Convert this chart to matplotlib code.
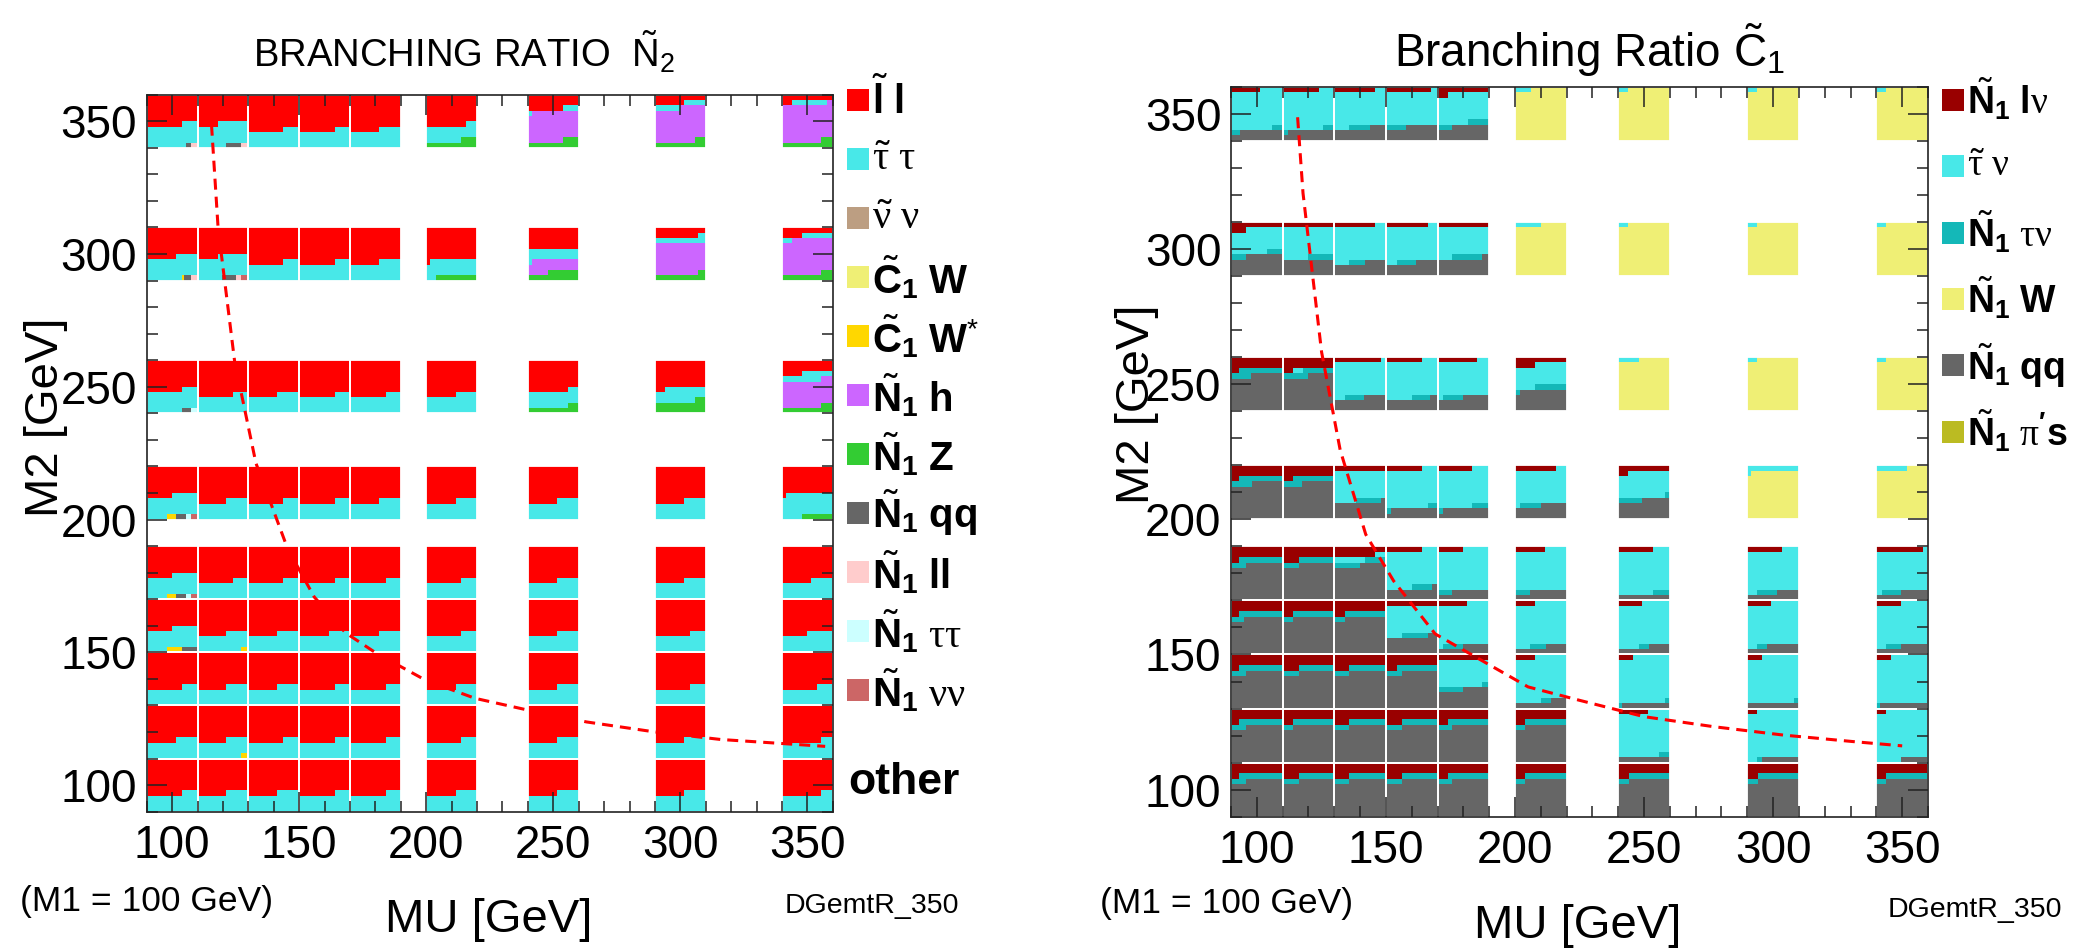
import matplotlib
matplotlib.use('Agg')
import matplotlib.pyplot as plt
from matplotlib.patches import Rectangle
import numpy as np

plt.rcParams['font.family'] = ['Liberation Sans', 'DejaVu Sans']
plt.rcParams['mathtext.fontset'] = 'custom'
plt.rcParams['mathtext.rm'] = 'Liberation Sans'
plt.rcParams['mathtext.bf'] = 'Liberation Sans:bold'
plt.rcParams['mathtext.it'] = 'Liberation Serif'
plt.rcParams['mathtext.sf'] = 'Liberation Sans'

# scan grid (GeV); rows of every table run from M2 = 350 down to M2 = 100
MU_POINTS = [100, 120, 140, 160, 180, 210, 250, 300, 350]
M2_POINTS = [350, 300, 250, 210, 180, 160, 140, 120, 100]

# ---- neutralino-2 decays ----
N2_SLEP_L = [
    [0.569, 0.540, 0.668, 0.670, 0.657, 0.578, 0.269, 0.158, 0.120],
    [0.558, 0.541, 0.668, 0.670, 0.657, 0.608, 0.400, 0.185, 0.140],
    [0.569, 0.669, 0.657, 0.670, 0.670, 0.658, 0.578, 0.520, 0.240],
    [0.549, 0.657, 0.668, 0.670, 0.657, 0.658, 0.658, 0.658, 0.508],
    [0.549, 0.669, 0.668, 0.670, 0.670, 0.669, 0.658, 0.658, 0.658],
    [0.549, 0.657, 0.657, 0.658, 0.657, 0.669, 0.658, 0.669, 0.650],
    [0.669, 0.657, 0.657, 0.670, 0.670, 0.658, 0.658, 0.669, 0.669],
    [0.658, 0.657, 0.668, 0.670, 0.670, 0.669, 0.658, 0.658, 0.677],
    [0.669, 0.657, 0.657, 0.670, 0.670, 0.658, 0.658, 0.658, 0.677],
]
N2_STAU_TAU = [
    [0.409, 0.417, 0.332, 0.330, 0.343, 0.291, 0.039, 0.091, 0.069],
    [0.411, 0.408, 0.332, 0.330, 0.343, 0.312, 0.208, 0.115, 0.080],
    [0.400, 0.331, 0.343, 0.330, 0.330, 0.342, 0.300, 0.258, 0.137],
    [0.390, 0.343, 0.332, 0.330, 0.343, 0.342, 0.342, 0.342, 0.432],
    [0.390, 0.331, 0.332, 0.330, 0.330, 0.331, 0.342, 0.342, 0.342],
    [0.391, 0.329, 0.343, 0.342, 0.343, 0.331, 0.342, 0.331, 0.350],
    [0.331, 0.343, 0.343, 0.330, 0.330, 0.342, 0.342, 0.331, 0.331],
    [0.342, 0.329, 0.332, 0.330, 0.330, 0.331, 0.342, 0.342, 0.323],
    [0.331, 0.343, 0.343, 0.330, 0.330, 0.342, 0.342, 0.342, 0.323],
]
N2_C1_WSTAR = [
    [0, 0, 0, 0, 0, 0, 0, 0, 0],
    [0.005, 0, 0, 0, 0, 0, 0, 0, 0],
    [0, 0, 0, 0, 0, 0, 0, 0, 0],
    [0.019, 0, 0, 0, 0, 0, 0, 0, 0],
    [0.019, 0, 0, 0, 0, 0, 0, 0, 0],
    [0.029, 0.014, 0, 0, 0, 0, 0, 0, 0],
    [0, 0, 0, 0, 0, 0, 0, 0, 0],
    [0, 0.014, 0, 0, 0, 0, 0, 0, 0],
    [0, 0, 0, 0, 0, 0, 0, 0, 0],
]
N2_N1_H = [
    [0, 0, 0, 0, 0, 0, 0.561, 0.629, 0.688],
    [0, 0, 0, 0, 0, 0, 0.232, 0.585, 0.657],
    [0, 0, 0, 0, 0, 0, 0, 0, 0.500],
    [0, 0, 0, 0, 0, 0, 0, 0, 0],
    [0, 0, 0, 0, 0, 0, 0, 0, 0],
    [0, 0, 0, 0, 0, 0, 0, 0, 0],
    [0, 0, 0, 0, 0, 0, 0, 0, 0],
    [0, 0, 0, 0, 0, 0, 0, 0, 0],
    [0, 0, 0, 0, 0, 0, 0, 0, 0],
]
N2_N1_Z = [
    [0, 0, 0, 0, 0, 0.131, 0.131, 0.122, 0.123],
    [0, 0, 0, 0, 0, 0.080, 0.160, 0.115, 0.123],
    [0, 0, 0, 0, 0, 0, 0.122, 0.222, 0.123],
    [0, 0, 0, 0, 0, 0, 0, 0, 0.060],
    [0, 0, 0, 0, 0, 0, 0, 0, 0],
    [0, 0, 0, 0, 0, 0, 0, 0, 0],
    [0, 0, 0, 0, 0, 0, 0, 0, 0],
    [0, 0, 0, 0, 0, 0, 0, 0, 0],
    [0, 0, 0, 0, 0, 0, 0, 0, 0],
]
N2_N1_QQ = [
    [0.009, 0.029, 0, 0, 0, 0, 0, 0, 0],
    [0.013, 0.027, 0, 0, 0, 0, 0, 0, 0],
    [0.018, 0, 0, 0, 0, 0, 0, 0, 0],
    [0.019, 0, 0, 0, 0, 0, 0, 0, 0],
    [0.019, 0, 0, 0, 0, 0, 0, 0, 0],
    [0.031, 0, 0, 0, 0, 0, 0, 0, 0],
    [0, 0, 0, 0, 0, 0, 0, 0, 0],
    [0, 0, 0, 0, 0, 0, 0, 0, 0],
    [0, 0, 0, 0, 0, 0, 0, 0, 0],
]
N2_N1_LL = [
    [0.013, 0.014, 0, 0, 0, 0, 0, 0, 0],
    [0.013, 0.010, 0, 0, 0, 0, 0, 0, 0],
    [0, 0, 0, 0, 0, 0, 0, 0, 0],
    [0, 0, 0, 0, 0, 0, 0, 0, 0],
    [0, 0, 0, 0, 0, 0, 0, 0, 0],
    [0, 0, 0, 0, 0, 0, 0, 0, 0],
    [0, 0, 0, 0, 0, 0, 0, 0, 0],
    [0, 0, 0, 0, 0, 0, 0, 0, 0],
    [0, 0, 0, 0, 0, 0, 0, 0, 0],
]
N2_N1_TAUTAU = [
    [0, 0, 0, 0, 0, 0, 0, 0, 0],
    [0, 0, 0, 0, 0, 0, 0, 0, 0],
    [0.013, 0, 0, 0, 0, 0, 0, 0, 0],
    [0.010, 0, 0, 0, 0, 0, 0, 0, 0],
    [0.010, 0, 0, 0, 0, 0, 0, 0, 0],
    [0, 0, 0, 0, 0, 0, 0, 0, 0],
    [0, 0, 0, 0, 0, 0, 0, 0, 0],
    [0, 0, 0, 0, 0, 0, 0, 0, 0],
    [0, 0, 0, 0, 0, 0, 0, 0, 0],
]
N2_N1_NUNU = [
    [0, 0, 0, 0, 0, 0, 0, 0, 0],
    [0, 0.014, 0, 0, 0, 0, 0, 0, 0],
    [0, 0, 0, 0, 0, 0, 0, 0, 0],
    [0.013, 0, 0, 0, 0, 0, 0, 0, 0],
    [0.013, 0, 0, 0, 0, 0, 0, 0, 0],
    [0, 0, 0, 0, 0, 0, 0, 0, 0],
    [0, 0, 0, 0, 0, 0, 0, 0, 0],
    [0, 0, 0, 0, 0, 0, 0, 0, 0],
    [0, 0, 0, 0, 0, 0, 0, 0, 0],
]
ZERO = [[0] * 9 for _ in range(9)]

# ---- chargino-1 decays ----
C1_N1_LNU = [
    [0.057, 0.070, 0.079, 0.088, 0.121, 0, 0, 0, 0],
    [0.129, 0.100, 0.079, 0.081, 0.100, 0, 0, 0, 0],
    [0.216, 0.220, 0.090, 0.070, 0.077, 0.139, 0, 0, 0],
    [0.216, 0.220, 0.100, 0.070, 0.067, 0.080, 0.119, 0, 0],
    [0.215, 0.231, 0.179, 0.070, 0.049, 0.059, 0.068, 0.067, 0.090],
    [0.216, 0.220, 0.220, 0.100, 0.058, 0.039, 0.047, 0.046, 0.048],
    [0.216, 0.231, 0.229, 0.221, 0.100, 0.039, 0.029, 0.028, 0.029],
    [0.216, 0.220, 0.229, 0.231, 0.221, 0.220, 0.058, 0.018, 0.018],
    [0.216, 0.231, 0.229, 0.231, 0.221, 0.220, 0.220, 0.220, 0.218],
]
C1_STAU_NU = [
    [0.723, 0.708, 0.650, 0.612, 0.539, 0.031, 0.019, 0.018, 0.018],
    [0.441, 0.549, 0.650, 0.640, 0.528, 0.050, 0.019, 0.018, 0.018],
    [0, 0.020, 0.630, 0.680, 0.633, 0.400, 0.040, 0.018, 0.018],
    [0, 0, 0.543, 0.711, 0.700, 0.630, 0.471, 0.108, 0.059],
    [0, 0, 0.080, 0.680, 0.751, 0.741, 0.800, 0.751, 0.720],
    [0, 0, 0, 0.531, 0.752, 0.791, 0.793, 0.772, 0.770],
    [0, 0, 0, 0, 0.487, 0.811, 0.861, 0.862, 0.871],
    [0, 0, 0, 0, 0, 0, 0.821, 0.900, 0.930],
    [0, 0, 0, 0, 0, 0, 0, 0, 0],
]
C1_N1_TAUNU = [
    [0.038, 0.033, 0.040, 0.039, 0.068, 0, 0, 0, 0],
    [0.059, 0.051, 0.030, 0.038, 0.059, 0, 0, 0, 0],
    [0.123, 0.110, 0.038, 0.035, 0.039, 0.070, 0, 0, 0],
    [0.124, 0.118, 0.047, 0.029, 0.043, 0.040, 0.057, 0, 0],
    [0.115, 0.100, 0.091, 0.039, 0.028, 0.030, 0.032, 0.040, 0.038],
    [0.110, 0.100, 0.100, 0.050, 0.039, 0.030, 0.019, 0.020, 0.030],
    [0.113, 0.100, 0.100, 0.110, 0.062, 0.020, 0.017, 0.010, 0.007],
    [0.113, 0.100, 0.100, 0.100, 0.108, 0.100, 0.021, 0.010, 0],
    [0.113, 0.100, 0.100, 0.100, 0.108, 0.100, 0.100, 0.100, 0.100],
]
C1_N1_W = [
    [0, 0, 0, 0, 0, 0.969, 0.981, 0.982, 0.982],
    [0, 0, 0, 0, 0, 0.950, 0.981, 0.982, 0.982],
    [0, 0, 0, 0, 0, 0, 0.960, 0.982, 0.982],
    [0, 0, 0, 0, 0, 0, 0, 0.892, 0.941],
    [0, 0, 0, 0, 0, 0, 0, 0, 0],
    [0, 0, 0, 0, 0, 0, 0, 0, 0],
    [0, 0, 0, 0, 0, 0, 0, 0, 0],
    [0, 0, 0, 0, 0, 0, 0, 0, 0],
    [0, 0, 0, 0, 0, 0, 0, 0, 0],
]
C1_N1_QQ = [
    [0.182, 0.189, 0.231, 0.261, 0.272, 0, 0, 0, 0],
    [0.371, 0.300, 0.241, 0.241, 0.313, 0, 0, 0, 0],
    [0.661, 0.650, 0.242, 0.215, 0.251, 0.391, 0, 0, 0],
    [0.660, 0.662, 0.310, 0.190, 0.190, 0.250, 0.353, 0, 0],
    [0.670, 0.669, 0.650, 0.211, 0.172, 0.170, 0.100, 0.142, 0.152],
    [0.674, 0.680, 0.680, 0.319, 0.151, 0.140, 0.141, 0.162, 0.152],
    [0.671, 0.669, 0.671, 0.669, 0.351, 0.130, 0.093, 0.100, 0.093],
    [0.671, 0.680, 0.671, 0.669, 0.671, 0.680, 0.100, 0.072, 0.052],
    [0.671, 0.669, 0.671, 0.669, 0.671, 0.680, 0.680, 0.680, 0.682],
]

# dashed reference contour
N2_CURVE_MU = [115.5, 118.1, 124.6, 133.0, 145.4, 155.9, 168.2, 180.5, 199.8,
               219.2, 240.3, 263.1, 289.5, 315.8, 349.2, 357.0]
N2_CURVE_M2 = [348.7, 309.8, 259.6, 221.2, 189.2, 170.9, 157.4, 149.6, 139.5,
               132.7, 128.2, 123.8, 120.1, 117.2, 115.1, 114.6]
C1_CURVE_MU = [115.8, 117.9, 120.6, 125.1, 132.3, 142.2, 153.0, 169.1, 187.1,
               205.1, 224.8, 250.0, 276.9, 303.9, 330.8, 350.0]
C1_CURVE_M2 = [348.7, 320.6, 298.5, 261.8, 225.6, 194.4, 177.2, 157.6, 147.8,
               138.0, 133.1, 127.0, 123.3, 120.2, 117.8, 116.2]

N2_DECAYS = [
    (r'$\tilde{\mathbf{l}}\ \mathbf{l}$', '#ff0000', N2_SLEP_L),
    (r'$\tilde{\tau}\ \tau$', '#48e8e8', N2_STAU_TAU),
    (r'$\tilde{\nu}\ \nu$', '#bc9e82', ZERO),
    (r'$\tilde{\mathbf{C}}_{\mathbf{1}}\ \mathbf{W}$', '#efef75', ZERO),
    (r'$\tilde{\mathbf{C}}_{\mathbf{1}}\ \mathbf{W}^{*}$', '#ffd700', N2_C1_WSTAR),
    (r'$\tilde{\mathbf{N}}_{\mathbf{1}}\ \mathbf{h}$', '#cc66ff', N2_N1_H),
    (r'$\tilde{\mathbf{N}}_{\mathbf{1}}\ \mathbf{Z}$', '#33cc33', N2_N1_Z),
    (r'$\tilde{\mathbf{N}}_{\mathbf{1}}\ \mathbf{qq}$', '#666666', N2_N1_QQ),
    (r'$\tilde{\mathbf{N}}_{\mathbf{1}}\ \mathbf{ll}$', '#ffcccc', N2_N1_LL),
    (r'$\tilde{\mathbf{N}}_{\mathbf{1}}\ \tau\tau$', '#ccffff', N2_N1_TAUTAU),
    (r'$\tilde{\mathbf{N}}_{\mathbf{1}}\ \nu\nu$', '#cc6666', N2_N1_NUNU),
]
C1_DECAYS = [
    (r'$\tilde{\mathbf{N}}_{\mathbf{1}}\ \mathbf{l}\nu$', '#990000', C1_N1_LNU),
    (r'$\tilde{\tau}\ \nu$', '#48e8e8', C1_STAU_NU),
    (r'$\tilde{\mathbf{N}}_{\mathbf{1}}\ \tau\nu$', '#14b8b8', C1_N1_TAUNU),
    (r'$\tilde{\mathbf{N}}_{\mathbf{1}}\ \mathbf{W}$', '#efef75', C1_N1_W),
    (r'$\tilde{\mathbf{N}}_{\mathbf{1}}\ \mathbf{qq}$', '#666666', C1_N1_QQ),
    (r"$\tilde{\mathbf{N}}_{\mathbf{1}}\ \pi\mathbf{'s}$", '#bbbb22', ZERO),
]

CELL = 20.0      # cell size in GeV
N_ROWS = 10      # each cell row holds 10 % of the decays

W, H = 2078, 948
fig = plt.figure(figsize=(W / 100, H / 100), dpi=100)


def px_box(left, top, right, bottom):
    return [left / W, 1 - bottom / H, (right - left) / W, (bottom - top) / H]


def fill_cell(ax, xc, yc, fracs, colors):
    """Fill one cell row by row from the top-left corner."""
    x0 = xc - CELL / 2
    top = yc + CELL / 2
    rh = CELL / N_ROWS
    start = 0.0
    for frac, color in zip(fracs, colors):
        if frac <= 0:
            continue
        a = start * N_ROWS
        b = min(start + frac, 1.0) * N_ROWS
        r = int(np.floor(a + 1e-9))
        while r < b - 1e-9:
            lo = max(a, r) - r
            hi = min(b, r + 1) - r
            ax.add_patch(Rectangle((x0 + lo * CELL, top - (r + 1) * rh),
                                   (hi - lo) * CELL, rh, facecolor=color,
                                   lw=0, antialiased=False, zorder=1))
            r += 1
        start += frac
    ax.add_patch(Rectangle((x0, top - CELL), CELL, CELL, fill=False,
                           edgecolor='white', lw=1.3, zorder=1.5))


def draw_panel(ax, decays, curve_mu, curve_m2):
    colors = [c for _, c, _ in decays]
    for i, m2 in enumerate(M2_POINTS):
        for j, mu in enumerate(MU_POINTS):
            fracs = [tab[i][j] for _, _, tab in decays]
            if sum(fracs) > 0:
                fill_cell(ax, mu, m2, fracs, colors)
    ax.plot(curve_mu, curve_m2, color='#ff0000', lw=2.2, dashes=(3.6, 2.3), zorder=3)
    ax.set_xlim(90, 360)
    ax.set_ylim(90, 360)
    ax.set_xticks([100, 150, 200, 250, 300, 350])
    ax.set_yticks([100, 150, 200, 250, 300, 350])
    ax.set_xticks(np.arange(90, 361, 10), minor=True)
    ax.set_yticks(np.arange(90, 361, 10), minor=True)
    ax.tick_params(which='both', direction='in', top=True, right=True,
                   width=1.1, color='#222222')
    ax.tick_params(which='major', length=14.5, labelsize=33)
    ax.tick_params(which='minor', length=8)
    ax.tick_params(axis='x', pad=9)
    ax.tick_params(axis='y', pad=7)
    for sp in ax.spines.values():
        sp.set_linewidth(1.2)
        sp.set_color('#222222')


def draw_legend(entries, sq_left, y_first, step, size):
    for k, (label, color) in enumerate(entries):
        yc = y_first + k * step
        fig.patches.append(Rectangle((sq_left / W, 1 - (yc + 11) / H), 22 / W, 22 / H,
                                     facecolor=color, edgecolor='none',
                                     transform=fig.transFigure, figure=fig))
        fig.text((sq_left + 25) / W, 1 - yc / H, label, fontsize=size,
                 va='center', ha='left')


ax1 = fig.add_axes(px_box(146.7, 94.7, 832.8, 811.7))
draw_panel(ax1, N2_DECAYS, N2_CURVE_MU, N2_CURVE_M2)
ax2 = fig.add_axes(px_box(1231, 86.7, 1928, 816.7))
draw_panel(ax2, C1_DECAYS, C1_CURVE_MU, C1_CURVE_M2)

draw_legend([(l, c) for l, c, _ in N2_DECAYS], 847, 100, 59, 29)
fig.text(848 / W, 1 - 782 / H, 'other', fontsize=32, fontweight='bold',
         va='center', ha='left')
draw_legend([(l, c) for l, c, _ in C1_DECAYS], 1942, 100, 66.3, 27)

# titles
fig.text(464 / W, 1 - 53 / H, r'BRANCHING RATIO  $\tilde{\mathrm{N}}_{2}$', fontsize=27.5,
         ha='center', va='center')
fig.text(1590 / W, 1 - 50 / H, r'Branching Ratio $\tilde{\mathrm{C}}_{1}$', fontsize=33,
         ha='center', va='center')

# axis titles and annotations
for xc, yx, ylx, yly, mx, my, dx, dy in [
        (489, 920, 46, 417, 20, 901, 785, 906),
        (1578, 926, 1137, 404, 1100, 903, 1888, 910)]:
    fig.text(xc / W, 1 - yx / H, 'MU [GeV]', fontsize=34, ha='center', va='center')
    fig.text(ylx / W, 1 - yly / H, 'M2 [GeV]', fontsize=34, ha='center', va='center',
             rotation=90)
    fig.text(mx / W, 1 - my / H, '(M1 = 100 GeV)', fontsize=25.5, ha='left', va='center')
    fig.text(dx / W, 1 - dy / H, 'DGemtR_350', fontsize=20.5, ha='left', va='center')

fig.savefig('out.png', dpi=100)
